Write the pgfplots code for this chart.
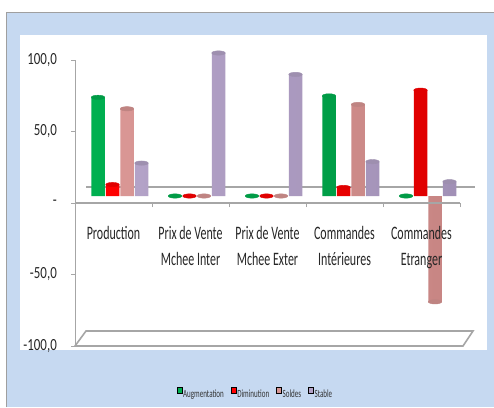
\documentclass[border=0pt]{standalone}
\usepackage{pgfplots}
\pgfplotsset{compat=1.18}
\usepackage{fontspec}
\setmainfont{Carlito}
\newfontfamily\catfont{Carlito}[FakeStretch=0.63]
\newfontfamily\tickfont{Carlito}[FakeStretch=0.76]
\newfontfamily\legfont{Carlito}[FakeStretch=0.64]

\definecolor{bgblue}{HTML}{C6D9F1}
\definecolor{floorgray}{HTML}{A6A6A6}
\definecolor{augM}{HTML}{00B050}\definecolor{augL}{HTML}{20C868}\definecolor{augD}{HTML}{009844}
\definecolor{dimM}{HTML}{FF0000}\definecolor{dimL}{HTML}{FF3838}\definecolor{dimD}{HTML}{E00000}
\definecolor{solM}{HTML}{D99694}\definecolor{solL}{HTML}{E6ACAA}\definecolor{solD}{HTML}{C88684}
\definecolor{staM}{HTML}{B3A2C7}\definecolor{staL}{HTML}{C4B6D6}\definecolor{staD}{HTML}{A190B6}

% Augmentation, Diminution, Soldes, Stable
\pgfplotstableread{
x aug dim sol sta
0 69  8  61  23
1 0   0  0   100
2 0   0  0   85
3 70  6  64  24
4 0   74 -74 10
}\enquete

\pgfplotsset{
  cyl/.style n args={4}{ybar, forget plot, bar width=13.5pt, bar shift=#4,
    draw=none, left color=#1, middle color=#2, right color=#3, yshift=7pt},
  cap/.style n args={2}{only marks, forget plot, xshift=#2, yshift=7pt,
    mark=*, mark size=6.75pt, mark options={yscale=0.32, fill=#1, draw=#1}},
}

\begin{document}
\begin{tikzpicture}[x=1pt,y=1pt]
\path[use as bounding box] (0,0) rectangle (494,407);
\fill[bgblue] (6,0) rectangle (494,395);
\draw[gray!75, line width=0.8pt] (6,0) -- (6,395) -- (494,395);
\fill[white] (20,57) rectangle (487,372);
\begin{axis}[
  axis on top,
  at={(75pt,61pt)}, anchor=south west,
  scale only axis, width=385pt, height=286pt,
  xmin=-0.5, xmax=4.5, ymin=-100, ymax=100,
  clip=false,
  axis x line*=middle, axis y line*=left,
  hide obscured x ticks=false, hide obscured y ticks=false,
  x axis line style={floorgray, line width=2pt},
  y axis line style={floorgray, line width=0.8pt},
  tick style={floorgray, line width=0.8pt},
  tick align=outside, major tick length=4pt,
  xtick={-0.5,0.5,1.5,2.5,3.5,4.5},
  x tick label as interval,
  xticklabels={Production, {Prix de Vente\\Mchee Inter}, {Prix de Vente\\Mchee Exter},
    {Commandes\\Intérieures}, {Commandes\\Etranger}},
  xticklabel style={font=\catfont\fontsize{19}{26}\selectfont, align=center,
    anchor=north, inner sep=0pt, yshift=-19pt, text=black!85},
  ytick={-100,-50,0,50,100},
  yticklabels={{-100,0},{-50,0},{-\hspace{7pt}},{50,0},{100,0}},
  yticklabel style={font=\tickfont\fontsize{17}{19}\selectfont, anchor=east,
    inner sep=0pt, xshift=-14pt, text=black!85},
  legend style={at={(0.4675,-0.165)}, anchor=center, draw=none, fill=none,
    legend columns=4, font=\legfont\fontsize{11}{12}\selectfont, text=black!80,
    /tikz/every even column/.append style={column sep=6pt},
    nodes={inner sep=1pt}},
  legend image code/.code={\fill[#1] (0pt,1pt) rectangle (5pt,7pt);},
]
% plancher (décor 3D)
\draw[floorgray, line width=2pt] (axis cs:-0.357,11.2) -- (axis cs:4.695,11.2);
\draw[floorgray, line width=1.6pt, fill=white] (axis cs:-0.5,-100) -- (axis cs:-0.357,-89.5)
  -- (axis cs:4.669,-89.5) -- (axis cs:4.539,-100) -- cycle;

\addplot[cyl={augM}{augL}{augD}{-15.5pt}] table[x=x, y=aug] {\enquete};
\addplot[cap={augM!88!black}{-15.5pt}] table[x=x, y=aug] {\enquete};
\addplot[cyl={dimM}{dimL}{dimD}{-1pt}] table[x=x, y=dim] {\enquete};
\addplot[cap={dimM!88!black}{-1pt}] table[x=x, y=dim] {\enquete};
\addplot[cyl={solM}{solL}{solD}{13.5pt}] table[x=x, y=sol] {\enquete};
\addplot[cap={solM!88!black}{13.5pt}] table[x=x, y=sol] {\enquete};
\addplot[cyl={staM}{staL}{staD}{28pt}] table[x=x, y=sta] {\enquete};
\addplot[cap={staM!88!black}{28pt}] table[x=x, y=sta] {\enquete};

\addlegendimage{fill=augM}\addlegendentry{Augmentation}
\addlegendimage{fill=dimM}\addlegendentry{Diminution}
\addlegendimage{fill=solM}\addlegendentry{Soldes}
\addlegendimage{fill=staM}\addlegendentry{Stable}
\end{axis}
\end{tikzpicture}
\end{document}
